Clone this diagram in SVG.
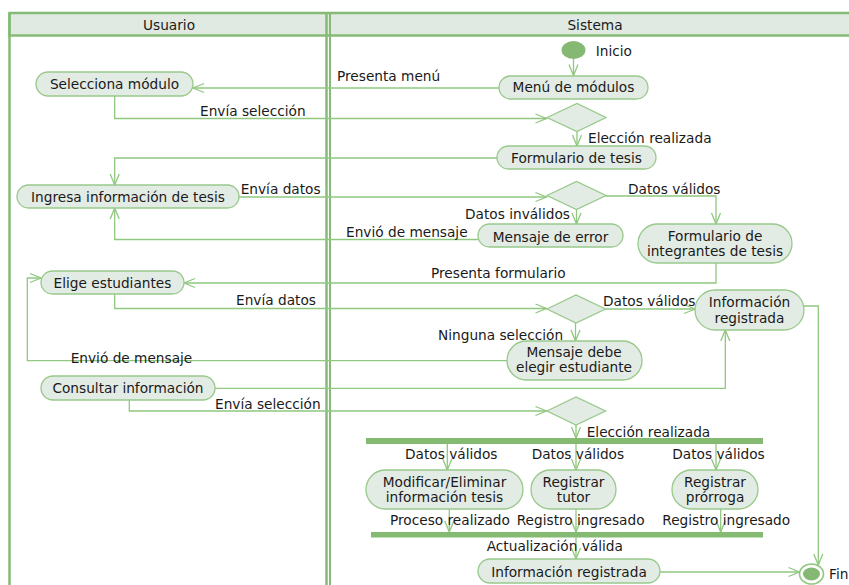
<svg xmlns="http://www.w3.org/2000/svg" width="849" height="585" viewBox="0 0 849 585">
<style>
.lane{fill:none;stroke:#85bb76;stroke-width:2.5}
.hdr{fill:#e1e9e3;stroke:#85bb76;stroke-width:2.5}
.node rect{fill:#e3ebe5;stroke:#98c98a;stroke-width:1.3}
.dec polygon{fill:#e3ebe5;stroke:#98c98a;stroke-width:1.3}
.bar{fill:#84ba72}
.conn path{fill:none;stroke:#90c87f;stroke-width:1.3;marker-end:url(#arr)}
text{font-family:"DejaVu Sans",Verdana,sans-serif;font-size:13.7px;fill:#1a1a1a}
.c{text-anchor:middle}
</style>
<defs>
<marker id="arr" markerUnits="userSpaceOnUse" markerWidth="14" markerHeight="12" refX="12" refY="6" orient="auto">
<path d="M1,1.5 L12,6 L1,10.5" fill="none" stroke="#90c87f" stroke-width="1.3"/>
</marker>
</defs>
<rect width="849" height="585" fill="#ffffff"/>
<g id="swimlanes">
<rect class="hdr" x="9.5" y="13" width="855" height="22.5"/>
<line class="lane" x1="9.5" y1="13" x2="9.5" y2="600"/>
<line class="lane" x1="326.5" y1="13" x2="326.5" y2="600"/>
<line class="lane" x1="330" y1="13" x2="330" y2="600" style="stroke-width:2"/>
<text class="c" x="169" y="30">Usuario</text>
<text class="c" x="595" y="30">Sistema</text>
</g>
<g id="connectors" class="conn">
<path d="M573.5,59 V75.5"/>
<path d="M499,88 H193"/>
<path d="M114.7,96 V118.5 H546.5"/>
<path d="M577,131.5 V146"/>
<path d="M497,158 H114.7 V185"/>
<path d="M239,197 H546.5"/>
<path d="M605.5,196 H716 V224"/>
<path d="M576.5,209.5 V224"/>
<path d="M478,239.5 H114.7 V208"/>
<path d="M716,263 V283 H184"/>
<path d="M114.7,294 V308.5 H546.5"/>
<path d="M605.5,309 H695"/>
<path d="M575.5,323 V341"/>
<path d="M507,360.7 H27.3 V278 H41"/>
<path d="M215,388.3 H725.3 V330"/>
<path d="M129.3,400 V411 H546.5"/>
<path d="M804,306 H818.3 V565"/>
<path d="M576,425 V438"/>
<path d="M447.3,444 V470"/>
<path d="M576,444 V470"/>
<path d="M716,444 V470"/>
<path d="M449.3,509 V532"/>
<path d="M576,509 V532"/>
<path d="M720.7,509 V532"/>
<path d="M576,537.5 V559"/>
<path d="M660,572 H799.5"/>
</g>
<g id="labels">
<text x="337" y="81">Presenta menú</text>
<text x="200" y="115.7">Envía selección</text>
<text x="588" y="142.7">Elección realizada</text>
<text x="240.7" y="193.5">Envía datos</text>
<text x="628" y="193.5">Datos válidos</text>
<text x="465" y="218.7">Datos inválidos</text>
<text x="346" y="236.7">Envió de mensaje</text>
<text x="431" y="278.3">Presenta formulario</text>
<text x="236" y="305">Envía datos</text>
<text x="603" y="306">Datos válidos</text>
<text x="438" y="340">Ninguna selección</text>
<text x="70.7" y="363">Envió de mensaje</text>
<text x="215" y="409">Envía selección</text>
<text x="586.7" y="436.7">Elección realizada</text>
<text x="405" y="459.3">Datos válidos</text>
<text x="531.7" y="459.3">Datos válidos</text>
<text x="672.3" y="459.3">Datos válidos</text>
<text x="390" y="525">Proceso realizado</text>
<text x="516.7" y="525">Registro ingresado</text>
<text x="662.3" y="525">Registro ingresado</text>
<text x="486.7" y="550.7">Actualización válida</text>
</g>
<g id="inicio">
<ellipse cx="573.5" cy="50" rx="12" ry="9" fill="#84b873"/>
<text x="595.7" y="55.5">Inicio</text>
</g>
<g id="selecciona-modulo" class="node"><rect x="36" y="72" width="157" height="24" rx="12"/><text class="c" x="114.5" y="89">Selecciona módulo</text></g>
<g id="menu-modulos" class="node"><rect x="499" y="76" width="149" height="23" rx="11.5"/><text class="c" x="573.5" y="92">Menú de módulos</text></g>
<g id="decision-1" class="dec"><polygon points="547,117.5 577,103.5 606,117.5 577,131.5"/></g>
<g id="formulario-tesis" class="node"><rect x="497" y="146" width="159" height="23" rx="11.5"/><text class="c" x="576.5" y="162.5">Formulario de tesis</text></g>
<g id="ingresa-informacion" class="node"><rect x="17" y="185" width="222" height="23" rx="11.5"/><text class="c" x="128" y="202.3">Ingresa información de tesis</text></g>
<g id="decision-2" class="dec"><polygon points="547,195.5 576.5,181.5 606,195.5 576.5,209.5"/></g>
<g id="mensaje-error" class="node"><rect x="478" y="224" width="145" height="23" rx="11.5"/><text class="c" x="550.5" y="241.5">Mensaje de error</text></g>
<g id="formulario-integrantes" class="node"><rect x="638" y="224" width="154" height="39" rx="19.5"/><text class="c" x="715" y="241">Formulario de</text><text class="c" x="715" y="255.7">integrantes de tesis</text></g>
<g id="elige-estudiantes" class="node"><rect x="41" y="271" width="143" height="23" rx="11.5"/><text class="c" x="112.5" y="288.3">Elige estudiantes</text></g>
<g id="decision-3" class="dec"><polygon points="547,309 576,295 605.5,309 576,323"/></g>
<g id="informacion-registrada-1" class="node"><rect x="695" y="290" width="109" height="40" rx="20"/><text class="c" x="749.5" y="307.3">Información</text><text class="c" x="749.5" y="322.7">registrada</text></g>
<g id="mensaje-elegir" class="node"><rect x="507" y="341" width="135" height="39" rx="19.5"/><text class="c" x="574" y="356.7">Mensaje debe</text><text class="c" x="574" y="372.3">elegir estudiante</text></g>
<g id="consultar-informacion" class="node"><rect x="41" y="376" width="174" height="24" rx="12"/><text class="c" x="128" y="392.7">Consultar información</text></g>
<g id="decision-4" class="dec"><polygon points="547,411 576,397 605.5,411 576,425"/></g>
<g id="fork"><rect class="bar" x="366" y="438" width="397" height="6"/></g>
<g id="modificar-eliminar" class="node"><rect x="366" y="470" width="157" height="39" rx="19.5"/><text class="c" x="444.5" y="486.7">Modificar/Eliminar</text><text class="c" x="444.5" y="501.7">información tesis</text></g>
<g id="registrar-tutor" class="node"><rect x="531" y="470" width="85" height="39" rx="19.5"/><text class="c" x="573.5" y="486.7">Registrar</text><text class="c" x="573.5" y="501.7">tutor</text></g>
<g id="registrar-prorroga" class="node"><rect x="672" y="470" width="86" height="39" rx="19.5"/><text class="c" x="715" y="486.7">Registrar</text><text class="c" x="715" y="501.7">prórroga</text></g>
<g id="join"><rect class="bar" x="371" y="532" width="392" height="5.5"/></g>
<g id="informacion-registrada-2" class="node"><rect x="478" y="559" width="182" height="24" rx="12"/><text class="c" x="569" y="576.5">Información registrada</text></g>
<g id="fin">
<ellipse cx="811.5" cy="574" rx="12" ry="10" fill="#ffffff" stroke="#90c87f" stroke-width="1.6"/>
<ellipse cx="811.5" cy="574" rx="8.5" ry="6.5" fill="#84b873"/>
<text x="829" y="579">Fin</text>
</g>
</svg>
